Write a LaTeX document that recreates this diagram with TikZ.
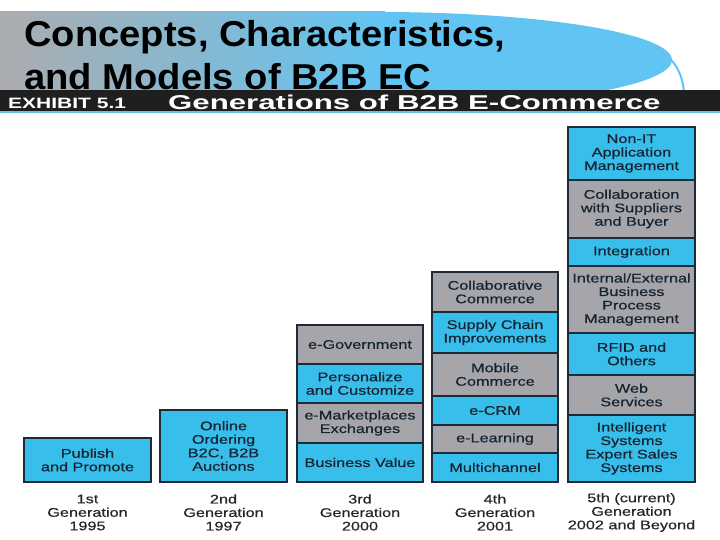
\documentclass[tikz,border=0pt]{standalone}
\usepackage{fontspec}
\setmainfont{Liberation Sans}
\newfontfamily\boxfont[FakeStretch=1.3,FakeBold=0.6]{Liberation Sans}
\newfontfamily\titlefont[FakeStretch=1.06]{Liberation Sans Bold}

\definecolor{segblue}{RGB}{56,190,235}
\definecolor{seggray}{RGB}{166,166,170}
\definecolor{segline}{RGB}{30,42,55}
\definecolor{segtext}{RGB}{22,36,50}
\definecolor{hdrblue}{RGB}{98,196,242}
\definecolor{hdrgray}{RGB}{172,172,175}

\tikzset{
	seg/.style={draw=segline, line width=1.1pt, inner sep=0pt, align=center, text=segtext, font=\boxfont\fontsize{12.5}{13.5}\selectfont},
	bseg/.style={seg, fill=segblue},
	gseg/.style={seg, fill=seggray},
	genlabel/.style={align=center, inner sep=0pt, text=black!85, font=\boxfont\fontsize{12.5}{13.5}\selectfont}
}

\begin{document}
\begin{tikzpicture}[x=1pt,y=-1pt]
		\useasboundingbox (0,0) rectangle (720,540);
		%header band
		\fill[hdrblue] (380,60) ellipse [x radius=292pt, y radius=48pt];
		\shade[left color=hdrgray, right color=hdrblue] (0,12) rectangle (385,90);
		\draw[hdrblue, line width=2pt] (671,60) .. controls (679,68) and (683,80) .. (684,92);
		\node[anchor=base west, inner sep=0pt, font=\titlefont\fontsize{36}{36}\selectfont] (title1) at (24,46.5) {Concepts, Characteristics,};
		\node[anchor=base west, inner sep=0pt, font=\titlefont\fontsize{36}{36}\selectfont] (title2) at (24,89.5) {and Models of B2B EC};
		%exhibit bar
		\fill[black!88] (0,90) rectangle (720,111);
		\fill[hdrblue] (0,111) rectangle (720,113.5);
		\node[anchor=base west, inner sep=0pt, text=white, font=\bfseries\fontsize{15}{15}\selectfont] (exhibit) at (8,109) {\scalebox{1.4}[1]{EXHIBIT 5.1}};
		\node[anchor=base west, inner sep=0pt, text=white, font=\bfseries\fontsize{20}{20}\selectfont] (banner) at (168,110) {\scalebox{1.56}[1]{Generations of B2B E-Commerce}};
		%1st generation
		\node[bseg, minimum width=127pt, minimum height=44pt] (publish) at (87.5,460) {Publish\\and Promote};
		\node[genlabel] (gen1) at (87.5,512.5) {1st\\Generation\\1995};
		%2nd generation
		\node[bseg, minimum width=127pt, minimum height=72pt] (ordering) at (223.5,446) {Online\\Ordering\\B2C, B2B\\Auctions};
		\node[genlabel] (gen2) at (223.5,512.5) {2nd\\Generation\\1997};
		%3rd generation
		\node[gseg, minimum width=126pt, minimum height=39pt] (egov) at (360,344.5) {e-Government};
		\node[bseg, minimum width=126pt, minimum height=39pt] (personal) at (360,383.5) {Personalize\\and Customize};
		\node[gseg, minimum width=126pt, minimum height=40pt] (emarket) at (360,423) {e-Marketplaces\\Exchanges};
		\node[bseg, minimum width=126pt, minimum height=39pt] (bizvalue) at (360,462.5) {Business Value};
		\node[genlabel] (gen3) at (360,512.5) {3rd\\Generation\\2000};
		%4th generation
		\node[gseg, minimum width=126pt, minimum height=40pt] (collab) at (495,292) {Collaborative\\Commerce};
		\node[bseg, minimum width=126pt, minimum height=41pt] (supply) at (495,332.5) {Supply Chain\\Improvements};
		\node[gseg, minimum width=126pt, minimum height=43pt] (mobile) at (495,374.5) {Mobile\\Commerce};
		\node[bseg, minimum width=126pt, minimum height=29pt] (ecrm) at (495,410.5) {e-CRM};
		\node[gseg, minimum width=126pt, minimum height=28pt] (elearn) at (495,439) {e-Learning};
		\node[bseg, minimum width=126pt, minimum height=29pt] (multi) at (495,467.5) {Multichannel};
		\node[genlabel] (gen4) at (495,512.5) {4th\\Generation\\2001};
		%5th generation
		\node[bseg, minimum width=127pt, minimum height=53pt] (nonit) at (631.5,153.5) {Non-IT\\Application\\Management};
		\node[gseg, minimum width=127pt, minimum height=58pt] (collabsup) at (631.5,209) {Collaboration\\with Suppliers\\and Buyer};
		\node[bseg, minimum width=127pt, minimum height=28pt] (integ) at (631.5,252) {Integration};
		\node[gseg, minimum width=127pt, minimum height=67pt] (intext) at (631.5,299.5) {Internal/External\\Business\\Process\\Management};
		\node[bseg, minimum width=127pt, minimum height=42pt] (rfid) at (631.5,354) {RFID and\\Others};
		\node[gseg, minimum width=127pt, minimum height=40pt] (web) at (631.5,395) {Web\\Services};
		\node[bseg, minimum width=127pt, minimum height=67pt] (intell) at (631.5,448.5) {Intelligent\\Systems\\Expert Sales\\Systems};
		\node[genlabel] (gen5) at (631.5,512.5) {5th (current)\\Generation\\2002 and Beyond};
\end{tikzpicture}
\end{document}
